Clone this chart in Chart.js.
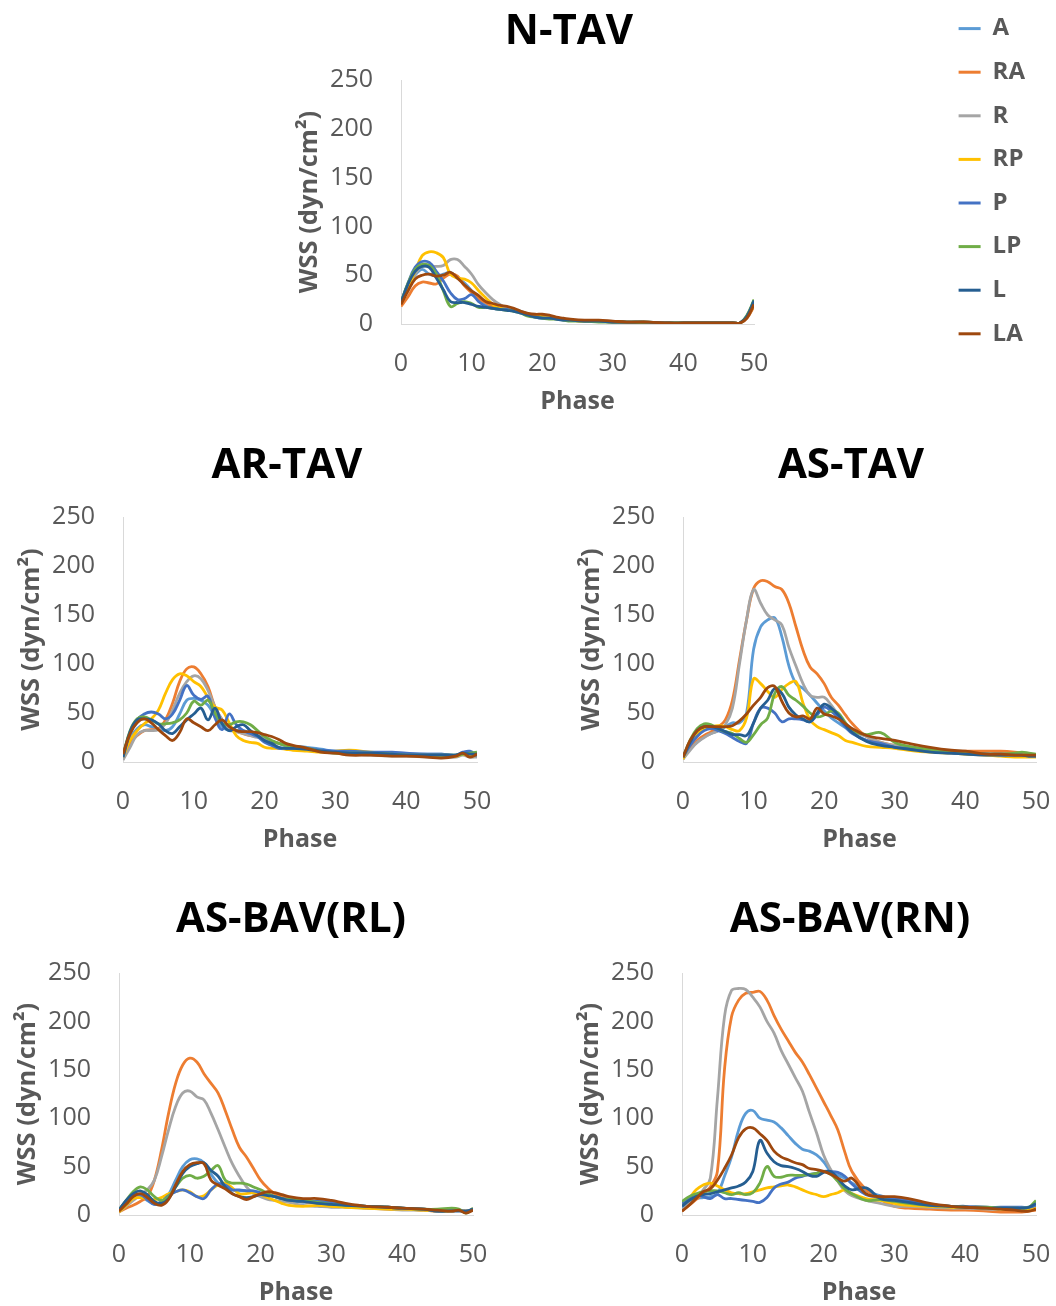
<!DOCTYPE html>
<html>
<head>
<meta charset="utf-8">
<title>WSS by phase</title>
<script src="https://cdn.jsdelivr.net/npm/chart.js@4.4.1/dist/chart.umd.min.js"></script>
<style>
  html, body { margin: 0; padding: 0; background: #fff; overflow: hidden; width: 1056px; height: 1306px; }
  canvas { position: absolute; }
</style>
</head>
<body>
<canvas id="nTav" width="932" height="422" style="left:103px; top:-3px"></canvas>
<canvas id="arTav" width="550" height="420" style="left:12px; top:437px"></canvas>
<canvas id="asTav" width="558" height="420" style="left:572px; top:437px"></canvas>
<canvas id="asBavRl" width="566" height="419" style="left:8px; top:891px"></canvas>
<canvas id="asBavRn" width="558" height="419" style="left:571px; top:891px"></canvas>
<script>
const phase = [0, 1, 2, 3, 4, 5, 6, 7, 8, 9, 10, 11, 12, 13, 14, 15, 16, 17, 18, 19, 20, 21, 22, 23, 24,
               26, 28, 30, 32, 35, 38, 40, 43, 45, 47, 48, 49, 50];
const seriesNames = ['A', 'RA', 'R', 'RP', 'P', 'LP', 'L', 'LA'];
const seriesColors = ['#5B9BD5', '#ED7D31', '#A5A5A5', '#FFC000', '#4472C4', '#70AD47', '#255E91', '#9E480E'];
const xTicks = [0, 10, 20, 30, 40, 50];
const yTicks = [0, 50, 100, 150, 200, 250];

// one row per region, in the order of seriesNames
const nTavWss = [
  [22, 38, 50, 56, 51, 49, 51, 53, 47, 42, 34, 25, 20, 17, 16, 15, 14, 13, 10, 8, 7, 7, 6, 5, 4, 3, 3, 2, 2, 2, 1, 1, 1, 1, 1, 1, 8, 24],
  [18, 28, 39, 43, 42, 41, 47, 51, 49, 39, 32, 26, 22, 18, 16, 15, 14, 12, 10, 9, 8, 7, 6, 5, 4, 3, 3, 2, 2, 1, 1, 1, 1, 1, 1, 1, 6, 18],
  [22, 36, 51, 59, 59, 59, 60, 66, 66, 59, 51, 40, 32, 25, 20, 16, 14, 12, 10, 9, 8, 7, 6, 5, 4, 3, 3, 2, 2, 2, 1, 1, 1, 1, 1, 1, 7, 20],
  [22, 37, 54, 70, 74, 73, 68, 51, 47, 46, 42, 34, 27, 20, 16, 15, 14, 12, 10, 9, 8, 7, 6, 5, 4, 3, 3, 2, 2, 2, 1, 1, 1, 1, 1, 1, 7, 20],
  [22, 42, 58, 64, 63, 54, 44, 32, 25, 26, 30, 23, 18, 16, 15, 15, 14, 12, 9, 7, 6, 6, 5, 4, 4, 3, 3, 2, 2, 1, 1, 1, 1, 1, 1, 1, 8, 22],
  [22, 42, 56, 61, 60, 51, 34, 18, 21, 23, 21, 17, 17, 16, 15, 14, 13, 11, 8, 7, 6, 5, 5, 4, 3, 3, 2, 2, 2, 1, 1, 1, 1, 1, 1, 1, 9, 25],
  [22, 41, 54, 59, 58, 47, 35, 23, 22, 22, 20, 18, 17, 16, 15, 14, 13, 11, 9, 7, 6, 6, 5, 4, 4, 3, 3, 2, 2, 2, 1, 1, 1, 1, 1, 1, 8, 24],
  [20, 34, 46, 50, 51, 49, 50, 53, 47, 40, 34, 29, 23, 21, 19, 18, 16, 13, 11, 10, 10, 9, 7, 6, 5, 4, 4, 3, 2, 2, 1, 1, 1, 1, 1, 1, 6, 20]
];

const arTavWss = [
  [5, 24, 34, 38, 36, 34, 32, 36, 49, 63, 65, 63, 58, 46, 36, 32, 32, 32, 29, 27, 24, 21, 19, 17, 16, 15, 13, 11, 10, 9, 8, 8, 8, 8, 7, 9, 7, 7],
  [3, 19, 27, 32, 33, 34, 43, 60, 82, 95, 97, 90, 77, 56, 43, 36, 32, 29, 27, 26, 24, 21, 19, 17, 15, 13, 11, 9, 8, 8, 7, 7, 6, 6, 6, 9, 6, 7],
  [2, 15, 28, 32, 32, 33, 39, 53, 70, 82, 88, 85, 73, 56, 43, 34, 31, 29, 27, 25, 24, 21, 19, 17, 15, 12, 10, 9, 8, 7, 6, 6, 5, 5, 5, 7, 5, 5],
  [5, 22, 32, 39, 44, 53, 70, 84, 90, 88, 82, 77, 66, 56, 53, 40, 27, 22, 20, 19, 15, 14, 14, 13, 12, 11, 10, 11, 12, 10, 8, 7, 6, 6, 6, 8, 6, 7],
  [5, 29, 43, 49, 51, 49, 44, 49, 63, 78, 68, 64, 67, 45, 33, 49, 38, 32, 29, 26, 20, 17, 14, 14, 14, 14, 12, 11, 11, 10, 10, 9, 8, 8, 7, 10, 11, 6],
  [7, 32, 44, 46, 43, 39, 39, 40, 43, 50, 62, 58, 63, 50, 39, 38, 41, 41, 38, 32, 26, 22, 19, 17, 16, 14, 11, 9, 9, 9, 8, 7, 7, 7, 7, 8, 9, 10],
  [5, 31, 43, 44, 43, 39, 32, 29, 36, 43, 49, 55, 43, 55, 39, 32, 36, 38, 32, 27, 22, 19, 15, 14, 14, 13, 11, 10, 9, 9, 8, 7, 7, 7, 7, 9, 8, 8],
  [8, 29, 40, 44, 40, 33, 27, 22, 30, 44, 40, 36, 32, 38, 43, 36, 32, 31, 31, 30, 28, 26, 23, 19, 17, 14, 10, 9, 7, 7, 6, 6, 5, 4, 6, 9, 5, 8]
];

const asTavWss = [
  [3, 14, 20, 26, 29, 32, 36, 40, 40, 50, 115, 138, 145, 147, 128, 98, 80, 75, 68, 60, 52, 45, 40, 35, 30, 22, 19, 15, 14, 12, 10, 9, 9, 9, 8, 7, 7, 6],
  [5, 14, 22, 27, 31, 36, 43, 63, 104, 145, 177, 185, 184, 179, 176, 162, 138, 114, 97, 90, 80, 66, 58, 48, 39, 26, 20, 17, 15, 12, 10, 11, 11, 11, 10, 9, 8, 7],
  [3, 12, 20, 25, 29, 32, 38, 55, 100, 145, 176, 162, 150, 145, 140, 117, 98, 80, 68, 66, 66, 58, 48, 40, 32, 26, 20, 17, 15, 11, 9, 8, 7, 7, 7, 7, 6, 6],
  [3, 19, 29, 34, 36, 37, 36, 33, 32, 45, 85, 80, 72, 66, 74, 80, 82, 60, 43, 36, 33, 30, 27, 22, 20, 16, 15, 14, 12, 10, 9, 8, 7, 6, 5, 5, 5, 5],
  [5, 17, 26, 32, 34, 32, 29, 25, 21, 19, 40, 55, 55, 50, 41, 44, 44, 43, 41, 48, 56, 52, 45, 36, 29, 22, 19, 15, 14, 11, 9, 9, 8, 7, 7, 7, 6, 6],
  [5, 22, 34, 39, 38, 34, 31, 29, 24, 20, 28, 38, 45, 70, 77, 68, 63, 57, 50, 46, 48, 52, 50, 40, 32, 28, 30, 20, 16, 13, 10, 9, 8, 8, 9, 10, 9, 8],
  [5, 20, 32, 36, 36, 34, 31, 28, 28, 27, 40, 55, 63, 75, 70, 56, 48, 44, 41, 50, 59, 55, 48, 38, 30, 21, 17, 15, 13, 10, 9, 8, 7, 7, 7, 7, 6, 6],
  [5, 22, 32, 36, 36, 36, 36, 37, 42, 49, 58, 66, 76, 77, 62, 50, 46, 47, 44, 55, 49, 47, 44, 39, 34, 27, 24, 22, 19, 15, 12, 11, 8, 8, 7, 7, 7, 7]
];

const asBavRlWss = [
  [5, 14, 19, 20, 15, 11, 12, 21, 36, 50, 57, 58, 54, 42, 33, 28, 26, 25, 25, 24, 22, 21, 19, 17, 15, 13, 14, 12, 10, 9, 8, 7, 6, 4, 5, 5, 4, 5],
  [3, 7, 10, 14, 19, 36, 67, 105, 136, 155, 162, 158, 146, 136, 126, 108, 88, 70, 60, 48, 36, 28, 22, 19, 17, 14, 12, 10, 9, 7, 6, 6, 5, 4, 5, 5, 4, 6],
  [3, 9, 15, 21, 26, 36, 60, 88, 112, 126, 128, 122, 119, 105, 88, 70, 53, 40, 29, 22, 19, 16, 15, 14, 13, 10, 9, 8, 8, 7, 6, 5, 5, 4, 5, 5, 4, 6],
  [3, 10, 17, 18, 17, 16, 18, 22, 24, 26, 24, 19, 20, 26, 31, 33, 28, 22, 22, 23, 21, 18, 15, 12, 10, 9, 10, 9, 8, 7, 6, 6, 5, 4, 4, 5, 4, 5],
  [5, 14, 20, 21, 16, 11, 14, 20, 24, 26, 23, 19, 17, 26, 32, 31, 26, 26, 25, 25, 23, 21, 19, 17, 16, 15, 14, 13, 11, 9, 8, 7, 6, 4, 5, 5, 4, 5],
  [5, 15, 24, 29, 26, 19, 15, 19, 29, 38, 41, 38, 40, 46, 51, 36, 33, 33, 32, 29, 26, 22, 19, 17, 16, 15, 13, 11, 10, 9, 8, 7, 6, 6, 7, 6, 2, 7],
  [5, 15, 22, 25, 21, 14, 12, 17, 29, 43, 50, 53, 54, 46, 40, 29, 22, 19, 18, 19, 21, 20, 19, 17, 15, 14, 12, 11, 10, 9, 8, 7, 6, 4, 4, 4, 4, 6],
  [4, 11, 19, 22, 18, 12, 10, 16, 31, 45, 52, 54, 53, 36, 31, 27, 22, 19, 16, 19, 22, 24, 23, 21, 19, 17, 17, 15, 12, 9, 8, 7, 6, 5, 4, 5, 2, 5]
];

const asBavRnWss = [
  [7, 14, 17, 18, 19, 22, 40, 60, 88, 105, 108, 100, 98, 96, 90, 82, 74, 68, 66, 62, 55, 45, 41, 38, 33, 25, 20, 15, 13, 10, 9, 8, 7, 7, 7, 7, 7, 9],
  [4, 10, 16, 22, 29, 45, 150, 205, 222, 229, 230, 231, 222, 206, 192, 180, 168, 158, 145, 131, 117, 103, 88, 65, 45, 26, 16, 9, 7, 6, 5, 5, 4, 3, 3, 3, 4, 5],
  [5, 12, 19, 26, 38, 120, 205, 232, 234, 233, 225, 215, 200, 188, 170, 156, 142, 128, 106, 85, 62, 47, 35, 25, 20, 15, 12, 9, 9, 8, 7, 7, 6, 6, 6, 7, 7, 9],
  [10, 17, 26, 31, 33, 30, 26, 23, 22, 22, 24, 26, 28, 29, 30, 31, 29, 26, 23, 21, 19, 21, 23, 26, 22, 17, 15, 12, 10, 9, 8, 8, 7, 6, 6, 6, 6, 7],
  [12, 18, 21, 19, 17, 21, 17, 17, 16, 15, 14, 13, 18, 28, 32, 34, 38, 40, 42, 43, 45, 45, 44, 40, 32, 21, 19, 17, 15, 11, 9, 9, 8, 8, 8, 8, 8, 10],
  [14, 19, 22, 24, 25, 25, 23, 21, 23, 21, 23, 33, 50, 40, 39, 41, 41, 41, 42, 43, 45, 42, 35, 27, 22, 15, 16, 14, 12, 10, 9, 8, 8, 7, 7, 7, 8, 15],
  [9, 15, 19, 21, 22, 24, 26, 28, 30, 34, 45, 77, 64, 55, 51, 50, 48, 45, 41, 40, 44, 45, 38, 30, 26, 28, 17, 15, 13, 10, 9, 8, 7, 7, 7, 7, 8, 12],
  [4, 10, 17, 24, 27, 36, 48, 62, 80, 89, 90, 84, 77, 66, 60, 57, 54, 52, 48, 47, 45, 42, 38, 35, 38, 22, 19, 19, 17, 12, 9, 8, 7, 6, 5, 4, 4, 6]
];

Chart.defaults.font.family = "'Open Sans', sans-serif";
const axisGrey = '#595959';
const lineGrey = '#D9D9D9';

// a blank axis used only to reserve space beside the plot
function spacer(position, width, weight) {
  return {
    type: 'linear', position, weight, display: true,
    grid: { display: false, drawTicks: false },
    border: { display: false },
    ticks: { display: false },
    afterFit: typeof width === 'function' ? width : s => { s.width = width; }
  };
}

function makeChart(id, title, rows, cfg) {
  const datasets = seriesNames.map((name, i) => ({
    label: name,
    data: phase.map((p, j) => ({ x: p, y: rows[i][j] })),
    borderColor: seriesColors[i],
    backgroundColor: seriesColors[i],
    borderWidth: 2.8,
    pointRadius: 0,
    tension: 0.4,
    order: seriesNames.length - i // later regions on top
  }));

  const scales = {
    x: {
      type: 'linear', min: 0, max: 50,
      afterBuildTicks: s => { s.ticks = xTicks.map(v => ({ value: v })); },
      ticks: { color: axisGrey, padding: 25, font: { size: 25 } },
      grid: { display: false, drawTicks: false },
      border: { color: lineGrey, width: 1 },
      title: { display: true, text: 'Phase', color: axisGrey, font: { size: 25, weight: 'bold' }, padding: { top: 0, bottom: 2 } },
      afterFit: s => { s.height = 95; }
    },
    y: {
      type: 'linear', min: 0, max: 250, weight: 0,
      afterBuildTicks: s => { s.ticks = yTicks.map(v => ({ value: v })); },
      ticks: { color: axisGrey, padding: 28, font: { size: 25 } },
      grid: { display: false, drawTicks: false },
      border: { color: lineGrey, width: 1 },
      title: { display: true, text: 'WSS (dyn/cm²)', color: axisGrey, font: { size: 25.5, weight: 'bold' }, padding: { top: 4, bottom: 0 } },
      afterFit: s => { s.width = 111; }
    },
    gapR: spacer('right', cfg.gapR, 0)
  };
  if (cfg.gapL) scales.gapL = spacer('left', cfg.gapL, 5);

  return new Chart(document.getElementById(id), {
    type: 'line',
    data: { datasets },
    options: {
      responsive: false,
      animation: false,
      events: [],
      layout: { padding: 0 },
      plugins: {
        title: {
          display: true, text: title, color: '#000',
          font: { size: 42, weight: 'bold' },
          padding: { top: cfg.titleTop, bottom: cfg.titleBottom }
        },
        legend: cfg.legend ? {
          display: true, position: 'right', align: 'start',
          labels: {
            boxWidth: 22, boxHeight: 3, padding: 19.6,
            color: axisGrey, font: { size: 24, weight: 'bold' },
            sort: (a, b) => a.datasetIndex - b.datasetIndex,
            generateLabels: chart => Chart.defaults.plugins.legend.labels.generateLabels(chart)
              .map(item => ({ ...item, lineWidth: 0 }))
          }
        } : { display: false },
        tooltip: { enabled: false }
      },
      scales
    }
  });
}

// N-TAV carries the shared legend; its plot ends 651px into the canvas
makeChart('nTav', 'N-TAV', nTavWss, {
  legend: true, gapL: 187, titleTop: 10.3, titleBottom: 22.3,
  gapR: s => { s.width = s.chart.width - s.chart.legend.width - 651; }
});
makeChart('arTav', 'AR-TAV', arTavWss, { gapR: 85, titleTop: 4, titleBottom: 25.6 });
makeChart('asTav', 'AS-TAV', asTavWss, { gapR: 94, titleTop: 4, titleBottom: 25.6 });
makeChart('asBavRl', 'AS-BAV(RL)', asBavRlWss, { gapR: 101, titleTop: 4, titleBottom: 27.6 });
makeChart('asBavRn', 'AS-BAV(RN)', asBavRnWss, { gapR: 93, titleTop: 4, titleBottom: 27.6 });
</script>
</body>
</html>
